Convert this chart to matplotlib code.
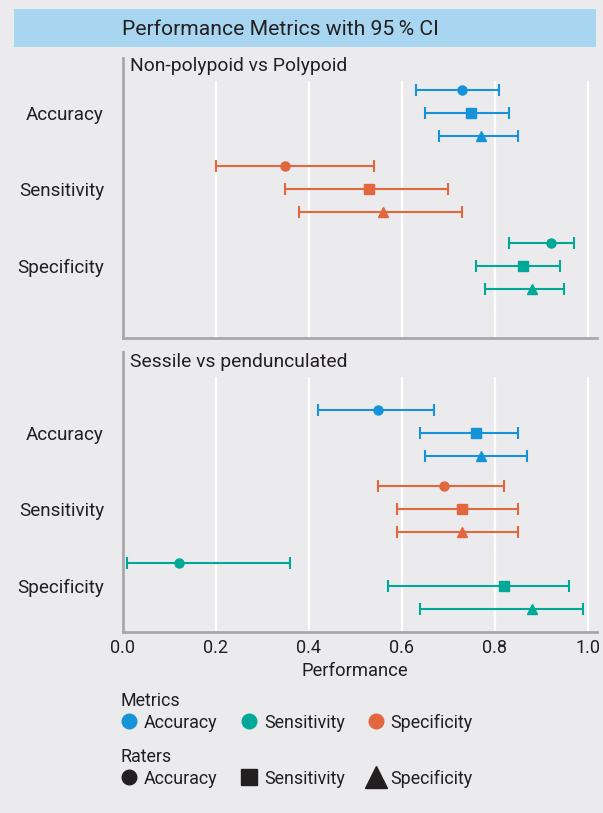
import matplotlib
matplotlib.use("Agg")
import matplotlib.pyplot as plt
from matplotlib.lines import Line2D
from matplotlib.patches import Rectangle
import numpy as np

plt.rcParams['font.family'] = ['Roboto', 'DejaVu Sans']

# data
metrics = ['Accuracy', 'Sensitivity', 'Specificity']
panels = ['Non-polypoid vs Polypoid', 'Sessile vs pendunculated']

# rows = metrics, columns = the three raters (circle, square, triangle)
np_est = [[0.73, 0.75, 0.77], [0.35, 0.53, 0.56], [0.92, 0.86, 0.88]]
np_lo = [[0.63, 0.65, 0.68], [0.20, 0.35, 0.38], [0.83, 0.76, 0.78]]
np_hi = [[0.81, 0.83, 0.85], [0.54, 0.70, 0.73], [0.97, 0.94, 0.95]]

sp_est = [[0.55, 0.76, 0.77], [0.69, 0.73, 0.73], [0.12, 0.82, 0.88]]
sp_lo = [[0.42, 0.64, 0.65], [0.55, 0.59, 0.59], [0.01, 0.57, 0.64]]
sp_hi = [[0.67, 0.85, 0.87], [0.82, 0.85, 0.85], [0.36, 0.96, 0.99]]

xticks = [0.0, 0.2, 0.4, 0.6, 0.8, 1.0]
legend_labels = ['Accuracy', 'Sensitivity', 'Specificity']

BLUE = '#1592d8'
TEAL = '#00a898'
ORANGE = '#e2663e'
BG = '#ebebed'
TXT = '#231f20'
SPINE = '#a8a8aa'

row_colors = [BLUE, ORANGE, TEAL]      # as drawn in the panels
legend_colors = [BLUE, TEAL, ORANGE]   # as shown in the legend
markers = ['o', 's', '^']
msizes = [6.5, 6.5, 7.5]
offsets = [-0.3, 0.0, 0.3]

fig = plt.figure(figsize=[6.03, 8.13], dpi=100, facecolor=BG)
W, H = 603.0, 813.0

# title banner
fig.patches.append(Rectangle((13.8 / W, 1 - 46.7 / H), (596 - 13.8) / W, 37.4 / H,
                             transform=fig.transFigure, facecolor='#a8d5f0',
                             edgecolor='none', zorder=0))
fig.text(122 / W, 1 - 35 / H, 'Performance Metrics with 95\u2009% CI',
         fontsize=15.2, color=TXT, va='baseline', ha='left')

left = 122.7 / W
width = (597 - 122.7) / W
ph = 280.3 / H
specs = [
    # bottom px, ylim, grid top fraction, title baseline fraction
    (338.0, (3.945, 0.281), 0.913, 0.9536),
    (632.0, (3.60, -0.057), 0.906, 0.9443),
]
data = [(np_est, np_lo, np_hi), (sp_est, sp_lo, sp_hi)]

axes = []
for k, (bpx, ylim, gtop, tb) in enumerate(specs):
    ax = fig.add_axes([left, 1 - bpx / H, width, ph])
    ax.set_facecolor(BG)
    est, lo, hi = data[k]
    for i in range(len(metrics)):
        for j in range(3):
            y = i + 1 + offsets[j]
            e = est[i][j]
            ax.errorbar(e, y, xerr=[[e - lo[i][j]], [hi[i][j] - e]],
                        fmt=markers[j], color=row_colors[i], ms=msizes[j],
                        elinewidth=1.5, capsize=4.6, capthick=1.5, zorder=3)
    for xt in xticks[1:]:
        ax.axvline(xt, ymin=0, ymax=gtop, color='white', lw=1.6, zorder=0)
    ax.set_xlim(0, 1.02)
    ax.set_ylim(*ylim)
    ax.set_yticks([1, 2, 3])
    ax.set_yticklabels(metrics)
    ax.set_xticks(xticks)
    ax.set_xticklabels(['%.1f' % v for v in xticks])
    ax.tick_params(axis='y', length=0, pad=13.5, labelsize=13.6, labelcolor=TXT)
    ax.tick_params(axis='x', length=0, pad=5, labelsize=13, labelcolor=TXT)
    for s in ['top', 'right']:
        ax.spines[s].set_visible(False)
    for s in ['left', 'bottom']:
        ax.spines[s].set_color(SPINE)
        ax.spines[s].set_linewidth(2.0)
    ax.text(7 / 474.3, tb, panels[k], transform=ax.transAxes, fontsize=13.9,
            color=TXT, va='baseline', ha='left')
    axes.append(ax)

axes[0].tick_params(axis='x', labelbottom=False)
axes[1].set_xlabel('Performance', fontsize=13.2, color=TXT, labelpad=3)
axes[1].xaxis.set_label_coords(0.49, -0.106)

metric_handles = [Line2D([], [], linestyle='none', marker='o', ms=10.5,
                         color=c) for c in legend_colors]
rater_handles = [Line2D([], [], linestyle='none', marker=m, ms=s, color=TXT)
                 for m, s in zip(markers, [10.5, 12, 15.5])]

leg_kw = dict(ncol=3, frameon=False, loc='upper left', fontsize=12.9,
              title_fontsize=12.9, alignment='left', borderpad=0,
              borderaxespad=0, handlelength=0.9, handletextpad=0.39,
              columnspacing=1.28, labelspacing=0.2, labelcolor=TXT)
l1 = fig.legend(metric_handles, legend_labels, title='Metrics',
                bbox_to_anchor=(121 / W, 1 - 692 / H), **leg_kw)
l2 = fig.legend(rater_handles, legend_labels, title='Raters',
                bbox_to_anchor=(121 / W, 1 - 748 / H), **leg_kw)
for lg in (l1, l2):
    lg.get_title().set_color(TXT)

fig.savefig('out.png', dpi=100, facecolor=BG)
